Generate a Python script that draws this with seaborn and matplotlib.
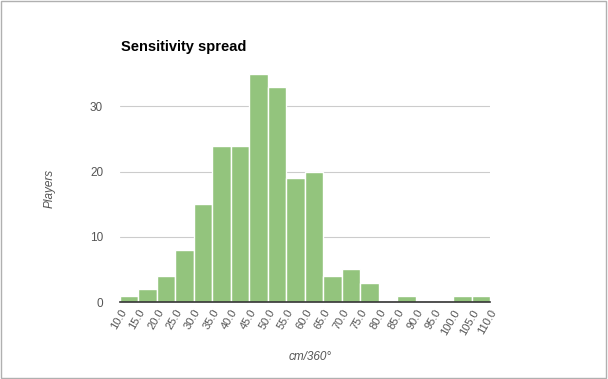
import matplotlib
matplotlib.use("Agg")
import matplotlib.pyplot as plt
import seaborn as sns

# bin edges (cm/360) and player counts
bin_edges = [10, 15, 20, 25, 30, 35, 40, 45, 50, 55, 60, 65, 70, 75, 80, 85, 90, 95, 100, 105, 110]
bin_starts = bin_edges[:-1]
players = [1, 2, 4, 8, 15, 24, 24, 35, 33, 19, 20, 4, 5, 3, 0, 1, 0, 0, 1, 1]
tick_labels = [f"{e:.1f}" for e in bin_edges]

sns.set_theme(style="white")
plt.rcParams['font.family'] = ['Liberation Sans', 'DejaVu Sans']

fig = plt.figure(figsize=(6.08, 3.79), dpi=100)
ax = fig.add_axes([0.197, 0.203, 0.609, 0.602])

sns.histplot(x=bin_starts, weights=players, bins=bin_edges, ax=ax,
             color="#93c47d", alpha=1, edgecolor="white", linewidth=1)

ax.set_xlim(10, 110)
ax.set_ylim(0, 35)
ax.set_yticks([0, 10, 20, 30])
ax.yaxis.grid(True, color="#cccccc", linewidth=0.8)
ax.set_axisbelow(True)
for s in ["top", "right", "left"]:
    ax.spines[s].set_visible(False)
ax.spines["bottom"].set_color("#333333")
ax.spines["bottom"].set_linewidth(1.2)

ax.set_xticks(bin_edges)
ax.set_xticklabels(tick_labels, rotation=60, ha="right", rotation_mode="anchor",
                   fontsize=8, color="#555555")
ax.tick_params(axis="x", length=0, pad=4)
ax.tick_params(axis="y", length=0, pad=12, labelsize=8.5, labelcolor="#555555")
ax.set_xlabel("")
ax.set_ylabel("")

# axis titles and chart title
fig.text(50 / 608, 1 - 188 / 379, "Players", rotation=90, ha="center", va="center",
         fontsize=8.5, style="italic", color="#555555")
fig.text(310 / 608, 1 - 357 / 379, "cm/360°", ha="center", va="center",
         fontsize=8.5, style="italic", color="#555555")
fig.text(121 / 608, 1 - 47 / 379, "Sensitivity spread", ha="left", va="center",
         fontsize=10.5, fontweight="bold", color="#000000")

# outer border
fig.patches.append(plt.Rectangle((0.002, 0.003), 0.995, 0.994, transform=fig.transFigure,
                                 fill=False, edgecolor="#b0b0b0", linewidth=1))

plt.savefig("out.png", dpi=100)
